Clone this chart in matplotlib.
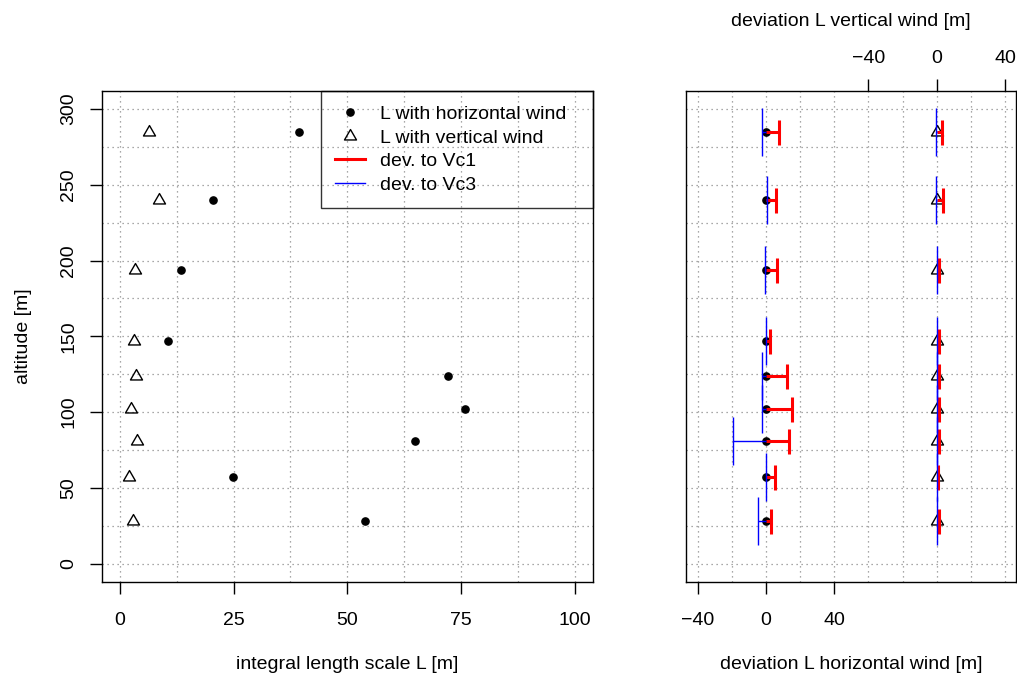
import matplotlib
matplotlib.use("Agg")
import matplotlib.pyplot as plt
from matplotlib.path import Path
from matplotlib.lines import Line2D
import numpy as np

plt.rcParams['font.family'] = ['Liberation Sans', 'DejaVu Sans']
plt.rcParams['font.size'] = 14

# measurement altitudes [m]
altitude = [28, 57, 81, 102, 124, 147, 194, 240, 285]
# integral length scales [m]
L_horizontal = [53.8, 24.8, 64.9, 75.9, 72.1, 10.5, 13.4, 20.4, 39.3]
L_vertical = [2.9, 1.9, 3.8, 2.4, 3.6, 3.1, 3.4, 8.5, 6.4]
# deviations of L [m] relative to the reference configurations
dev_h_vc1 = [2.7, 5.1, 13.7, 15.4, 12.3, 2.3, 6.2, 5.7, 7.8]
dev_h_vc3 = [-4.9, -0.2, -19.3, -2.1, -2.3, -0.2, -0.3, 0.4, -2.5]
dev_v_vc1 = [1.2, 1.0, 1.4, 1.2, 1.4, 1.2, 1.4, 3.9, 2.9]
dev_v_vc3 = [0.4, 0.1, 0.0, 0.1, 0.2, 0.0, 0.0, -0.2, -0.4]

# the vertical-wind deviations share the right panel, shifted by this offset
v_offset = 100.0

W, H, DPI = 1017, 677, 100
fig = plt.figure(figsize=(W / DPI, H / DPI), dpi=DPI)


def px_rect(x0, x1, ytop, ybot):
    return [x0 / W, 1 - ybot / H, (x1 - x0) / W, (ybot - ytop) / H]


# open triangle like R's pch=2 (centred on the circumcentre)
tri = Path([(-1.0, -0.577), (1.0, -0.577), (0.0, 1.155), (-1.0, -0.577)],
           [Path.MOVETO, Path.LINETO, Path.LINETO, Path.CLOSEPOLY])

grid_kw = dict(color='#8c8c8c', lw=0.9, ls=(0, (1, 3)), zorder=0)
tick_kw = dict(direction='out', length=8.6, width=1.0, pad=13, labelsize=14)
top_tick_kw = dict(direction='out', length=8.6, width=1.0, pad=9, labelsize=14)

dot_kw = dict(ls='none', marker='o', ms=5.2, color='black', zorder=3)
tri_kw = dict(ls='none', marker=tri, ms=10, mfc='none', mec='black', mew=1.0, zorder=3)

# ---------------- left panel: integral length scales ----------------
ax1 = fig.add_axes(px_rect(101.7, 593.0, 91.0, 581.7))
for x in np.arange(0, 100.1, 12.5):
    ax1.axvline(x, **grid_kw)
for y in np.arange(0, 301, 25):
    ax1.axhline(y, **grid_kw)

ax1.plot(L_horizontal, altitude, **dot_kw)
ax1.plot(L_vertical, altitude, **tri_kw)

ax1.set_xlim(-4, 104)
ax1.set_ylim(-12, 312)
ax1.set_xticks([0, 25, 50, 75, 100])
ax1.set_yticks([0, 50, 100, 150, 200, 250, 300])
ax1.tick_params(**tick_kw)
ax1.tick_params(axis='y', pad=9)
for lab in ax1.get_yticklabels():
    lab.set_rotation(90)
    lab.set_va('center')
ax1.set_xlabel('integral length scale L [m]', labelpad=20)
ax1.set_ylabel('altitude [m]', labelpad=20)
for s in ax1.spines.values():
    s.set_linewidth(1.0)

handles = [
    Line2D([], [], ls='none', marker='o', ms=5.2, color='black'),
    Line2D([], [], ls='none', marker=tri, ms=10, mfc='none', mec='black', mew=1.0),
    Line2D([], [], color='red', lw=2.2),
    Line2D([], [], color='blue', lw=1.0),
]
labels = ['L with horizontal wind', 'L with vertical wind', 'dev. to Vc1', 'dev. to Vc3']
x_leg = (320.7 - 101.7) / (593.0 - 101.7)
leg = ax1.legend(handles, labels, loc='upper left',
                 bbox_to_anchor=(x_leg, 0, 1 - x_leg, 1.0), mode='expand',
                 borderaxespad=0, frameon=True, fancybox=False,
                 handlelength=1.55, handletextpad=0.75, labelspacing=0.31,
                 borderpad=0.74, fontsize=14)
leg.get_frame().set_edgecolor('black')
leg.get_frame().set_facecolor('none')
leg.get_frame().set_linewidth(1.0)

# ---------------- right panel: deviations ----------------
ax2 = fig.add_axes(px_rect(685.7, 1016.0, 91.0, 581.7))
for x in np.arange(-40, 141, 20):
    ax2.axvline(x, **grid_kw)
for y in np.arange(0, 301, 25):
    ax2.axhline(y, **grid_kw)

n = len(altitude)
zeros = np.zeros(n)
ax2.plot(zeros, altitude, **dot_kw)
ax2.plot(zeros + v_offset, altitude, **tri_kw)

red_cap = dict(ls='none', marker='|', ms=18, mew=2.2, color='red', zorder=4)
blue_cap = dict(ls='none', marker='|', ms=34.5, mew=1.0, color='blue', zorder=5)

# Vc1 (red)
ax2.hlines(altitude, 0, dev_h_vc1, color='red', lw=2.2, zorder=4)
ax2.plot(dev_h_vc1, altitude, **red_cap)
vx1 = np.array(dev_v_vc1) + v_offset
ax2.hlines(altitude, v_offset, vx1, color='red', lw=2.2, zorder=4)
ax2.plot(vx1, altitude, **red_cap)
# Vc3 (blue)
ax2.hlines(altitude, 0, dev_h_vc3, color='blue', lw=1.0, zorder=5)
ax2.plot(dev_h_vc3, altitude, **blue_cap)
vx3 = np.array(dev_v_vc3) + v_offset
ax2.hlines(altitude, v_offset, vx3, color='blue', lw=1.0, zorder=5)
ax2.plot(vx3, altitude, **blue_cap)

ax2.set_xlim(-47.0, 146.4)
ax2.set_ylim(-12, 312)
ax2.set_yticks([])
ax2.set_xticks([-40, 0, 40])
ax2.set_xticklabels(['\u221240', '0', '40'])
ax2.tick_params(**tick_kw)
ax2.set_xlabel('deviation L horizontal wind [m]', labelpad=20)
for s in ax2.spines.values():
    s.set_linewidth(1.0)

top = ax2.secondary_xaxis('top')
top.set_xticks([v_offset - 40, v_offset, v_offset + 40])
top.set_xticklabels(['\u221240', '0', '40'])
top.tick_params(**top_tick_kw)
top.spines['top'].set_visible(False)
top.set_xlabel('deviation L vertical wind [m]', labelpad=17)

fig.savefig('out.png', dpi=DPI)
